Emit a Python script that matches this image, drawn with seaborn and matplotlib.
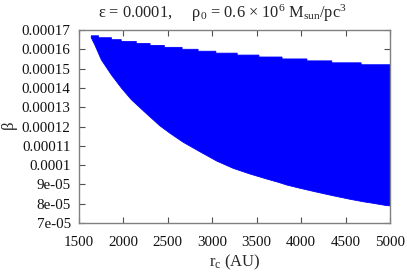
import matplotlib
matplotlib.use('Agg')
import matplotlib.pyplot as plt
import seaborn as sns
import numpy as np
from matplotlib.ticker import FuncFormatter, MultipleLocator

# lower edge of the allowed region (r_c in AU, beta)
lower_r = [1638, 1677, 1751, 1864, 1976, 2089, 2239, 2299, 2412, 2524, 2674, 2862,
           3050, 3237, 3424, 3612, 3743, 3837, 3987, 4156, 4362, 4550, 4700, 4812,
           4963, 5000]
lower_beta = [1.660e-4, 1.624e-4, 1.546e-4, 1.468e-4, 1.400e-4, 1.339e-4, 1.275e-4,
              1.250e-4, 1.203e-4, 1.165e-4, 1.118e-4, 1.069e-4, 1.021e-4, 0.983e-4,
              0.954e-4, 0.928e-4, 0.911e-4, 0.897e-4, 0.880e-4, 0.862e-4, 0.841e-4,
              0.823e-4, 0.810e-4, 0.802e-4, 0.790e-4, 0.789e-4]

# upper edge is stair-stepped: level upper_beta[i] between upper_edges[i] and upper_edges[i+1]
upper_edges = [1638, 1720, 1865, 1975, 2145, 2300, 2460, 2660, 2840, 3040, 3280,
               3525, 3785, 4065, 4345, 4675, 5000]
upper_beta = [1.67e-4, 1.66e-4, 1.65e-4, 1.64e-4, 1.63e-4, 1.62e-4, 1.61e-4, 1.60e-4,
              1.59e-4, 1.58e-4, 1.57e-4, 1.56e-4, 1.55e-4, 1.54e-4, 1.53e-4, 1.52e-4]

x_ticks = [1500, 2000, 2500, 3000, 3500, 4000, 4500, 5000]

sns.set_style("ticks")
plt.rcParams['font.family'] = ['Liberation Serif', 'DejaVu Serif']
plt.rcParams['mathtext.fontset'] = 'custom'
plt.rcParams['mathtext.rm'] = 'Liberation Serif'
plt.rcParams['mathtext.it'] = 'Liberation Serif:italic'

fig = plt.figure(figsize=(4.07, 2.75), dpi=100)
ax = fig.add_axes([79 / 407, 1 - 223 / 275, 311 / 407, 193 / 275])

# build the region outline: lower edge forward, upper stairs backward
up_x = np.repeat(upper_edges, 2)[1:-1]
up_y = np.repeat(upper_beta, 2)
poly_x = list(lower_r) + list(up_x[::-1])
poly_y = list(lower_beta) + list(up_y[::-1])
ax.fill(poly_x, poly_y, color='#0000ff', lw=0.6, ec='#0000ff')

ax.set_xlim(1500, 5000)
ax.set_ylim(7e-5, 1.7e-4)
ax.set_xticks(x_ticks)
ax.yaxis.set_major_locator(MultipleLocator(1e-5))
ax.yaxis.set_major_formatter(FuncFormatter(lambda v, p: '%g' % v))

for s in ax.spines.values():
    s.set_color('#808080')
    s.set_linewidth(1.0)
ax.tick_params(direction='in', top=True, right=True, length=4, width=0.8,
               color='#505050', labelsize=10.8, labelcolor='#111111')
ax.tick_params(axis='x', pad=9)
ax.tick_params(axis='y', pad=6)

ax.set_xlabel(r'r$_\mathrm{c}$ (AU)', fontsize=12)
ax.set_ylabel(r'$\mathrm{\beta}$', fontsize=12)
ax.xaxis.set_label_coords(0.5, -0.155)
ax.yaxis.set_label_coords(-0.19, 0.5)

fig.text(222 / 407, 1 - 18.5 / 275,
         r'$\mathrm{\varepsilon}$ = 0.0001,     $\mathrm{\rho_0}$ = 0.6 $\times$ 10$^6$ M$_\mathrm{sun}$/pc$^3$',
         ha='center', va='baseline', fontsize=11.8)

fig.savefig('out.png', dpi=100)
